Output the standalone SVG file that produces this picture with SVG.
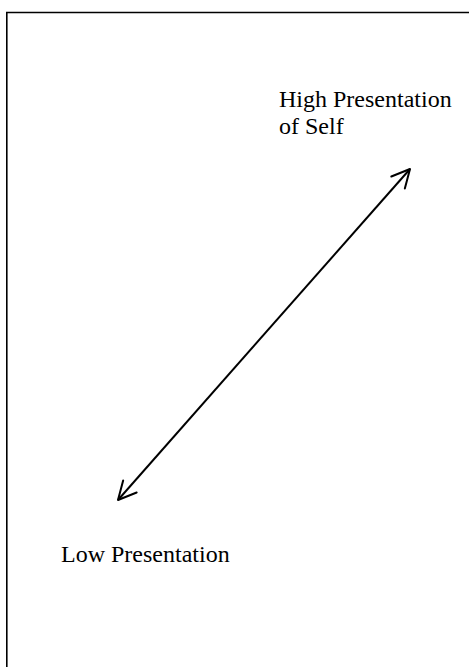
<svg xmlns="http://www.w3.org/2000/svg" width="469" height="667" viewBox="0 0 469 667">
<style>
.lbl{font-family:"Liberation Serif","Times New Roman",serif;font-size:24px;fill:#000}
.frame{fill:none;stroke:#000;stroke-width:1.6}
.conn{fill:none;stroke:#000;stroke-width:2}
</style>
<defs>
<marker id="ah" viewBox="-22 -12 24 24" refX="0" refY="0" markerWidth="24" markerHeight="24" markerUnits="userSpaceOnUse" orient="auto-start-reverse">
<path d="M-18,-9 L0,0 L-18,9" fill="none" stroke="#000" stroke-width="2" stroke-linejoin="round" stroke-linecap="round"/>
</marker>
</defs>
<rect fill="#fff" x="0" y="0" width="469" height="667"/>
<path class="frame" d="M6.8,680 L6.8,12.5 L480,12.5"/>
<g id="connectors">
<line class="conn" x1="118" y1="500" x2="410" y2="169" marker-start="url(#ah)" marker-end="url(#ah)"/>
</g>
<g id="high">
<text class="lbl" x="279" y="107">High Presentation</text>
<text class="lbl" x="279" y="134">of Self</text>
</g>
<g id="low">
<text class="lbl" x="61" y="562">Low Presentation</text>
</g>
</svg>
